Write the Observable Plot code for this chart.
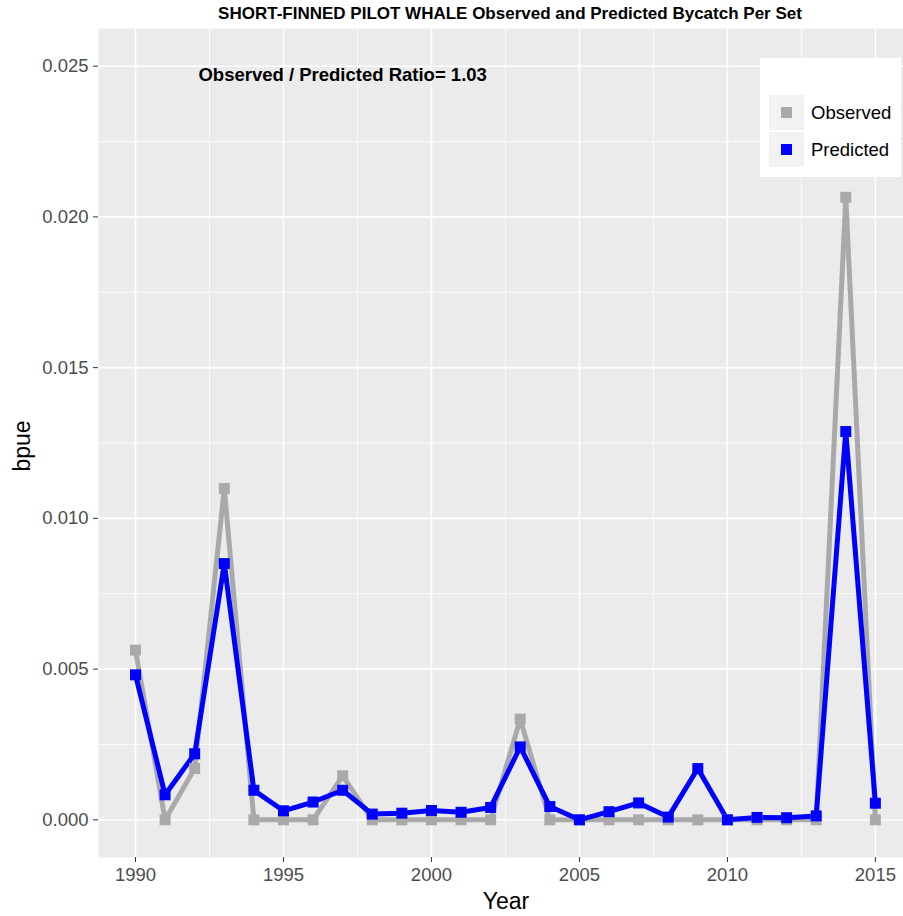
<!DOCTYPE html>
<html><head><meta charset="utf-8">
<script src="https://cdn.jsdelivr.net/npm/d3@7"></script>
<script src="https://cdn.jsdelivr.net/npm/@observablehq/plot@0.6"></script>
<style>
body{margin:0;background:#fff;font-family:"Liberation Sans",Arial,sans-serif;}
#wrap{position:relative;width:903px;height:916px;overflow:hidden;}
#title{height:28px;line-height:28px;font-weight:bold;font-size:17px;text-align:center;padding-left:117px;box-sizing:border-box;width:903px;color:#000;white-space:nowrap;}
#legend{position:absolute;left:760px;top:58px;width:141px;height:119px;background:#fff;}
.key{position:absolute;left:9px;width:35px;height:35px;background:#f2f2f2;}
.key span{position:absolute;left:12px;top:12px;width:11px;height:11px;}
.lab{position:absolute;left:51px;font-size:18.5px;line-height:20px;color:#000;}
</style></head>
<body>
<div id="wrap">
<div id="title"></div>
<div id="chart"></div>
<div id="legend"></div>
</div>
<script>
const titleText = "SHORT-FINNED PILOT WHALE Observed and Predicted Bycatch Per Set";
const years = [1990,1991,1992,1993,1994,1995,1996,1997,1998,1999,2000,2001,2002,2003,2004,2005,2006,2007,2008,2009,2010,2011,2012,2013,2014,2015];
const observed = [0.00563,0,0.0017,0.01099,0,0,0,0.00146,0,0,0,0,0,0.00334,0,0,0,0,0,0,0,0,0,0,0.02065,0];
const predicted = [0.00481,0.00083,0.00219,0.0085,0.00098,0.0003,0.00059,0.00098,0.00019,0.00022,0.00031,0.00025,0.00041,0.00242,0.00044,0.0,0.00027,0.00056,0.00009,0.0017,0.0,0.00008,0.00007,0.00013,0.01288,0.00055];
const seriesNames = ["Observed","Predicted"];
const seriesColors = ["#a9a9a9","#0000ff"];
const xTicks = [1990,1995,2000,2005,2010,2015];
const xMinor = [1992.5,1997.5,2002.5,2007.5,2012.5];
const yTicks = [0,0.005,0.010,0.015,0.020,0.025];
const yMinor = [0.0025,0.0075,0.0125,0.0175,0.0225];
const annotX = [1997];
const annotY = [0.0247];
const annotText = ["Observed / Predicted Ratio= 1.03"];
const xLabel = "Year";
const yLabel = "bpue";

document.getElementById("title").textContent = titleText;

const series = [observed, predicted];
const rows = [];
seriesNames.forEach((name, i) => years.forEach((yr, j) => rows.push({year: yr, value: series[i][j], series: name})));
const annot = annotX.map((x, i) => ({x, y: annotY[i], text: annotText[i]}));

const marks = [
  Plot.frame({fill: "#ebebeb", stroke: null}),
  Plot.ruleX(xMinor, {stroke: "#fff", strokeWidth: 0.8}),
  Plot.ruleY(yMinor, {stroke: "#fff", strokeWidth: 0.8}),
  Plot.ruleX(xTicks, {stroke: "#fff", strokeWidth: 1.6}),
  Plot.ruleY(yTicks, {stroke: "#fff", strokeWidth: 1.6}),
  Plot.axisX(xTicks, {tickSize: 5, tickPadding: 5, fontSize: 18.5, stroke: "#333", fill: "#4d4d4d", tickFormat: d => String(d), label: null}),
  Plot.axisY(yTicks, {tickSize: 5, tickPadding: 5, fontSize: 18.5, stroke: "#333", fill: "#4d4d4d", tickFormat: d3.format(".3f"), label: null})
];
seriesNames.forEach((name, i) => {
  marks.push(Plot.line(rows.filter(r => r.series === name), {x: "year", y: "value", stroke: seriesColors[i], strokeWidth: 5, strokeLinejoin: "miter", strokeLinecap: "butt"}));
});
seriesNames.forEach((name, i) => {
  marks.push(Plot.dot(rows.filter(r => r.series === name), {x: "year", y: "value", symbol: "square", r: 6.2, fill: seriesColors[i], stroke: null}));
});
marks.push(Plot.text(annot, {x: "x", y: "y", text: "text", fontSize: 18.5, fontWeight: "bold", fill: "#000"}));
marks.push(Plot.text([xLabel], {frameAnchor: "bottom", textAnchor: "middle", lineAnchor: "middle", dy: 44, dx: 5, fontSize: 23, fill: "#000"}));
marks.push(Plot.text([yLabel], {frameAnchor: "left", textAnchor: "middle", lineAnchor: "middle", dx: -75.5, dy: 3, rotate: -90, fontSize: 23, fill: "#000"}));

const chart = Plot.plot({
  width: 903, height: 888,
  marginLeft: 98, marginRight: 0, marginTop: 0, marginBottom: 59,
  style: {fontFamily: "'Liberation Sans', Arial, sans-serif", background: "transparent"},
  x: {domain: [1988.75, 2015.95]},
  y: {domain: [-0.00125, 0.02625]},
  marks
});
document.getElementById("chart").appendChild(chart);

const legend = document.getElementById("legend");
seriesNames.forEach((name, i) => {
  const k = document.createElement("div");
  k.className = "key";
  k.style.top = (37 + i * 37) + "px";
  const s = document.createElement("span");
  s.style.background = seriesColors[i];
  k.appendChild(s);
  legend.appendChild(k);
  const l = document.createElement("div");
  l.className = "lab";
  l.style.top = (45 + i * 37) + "px";
  l.textContent = name;
  legend.appendChild(l);
});
</script>
</body></html>
